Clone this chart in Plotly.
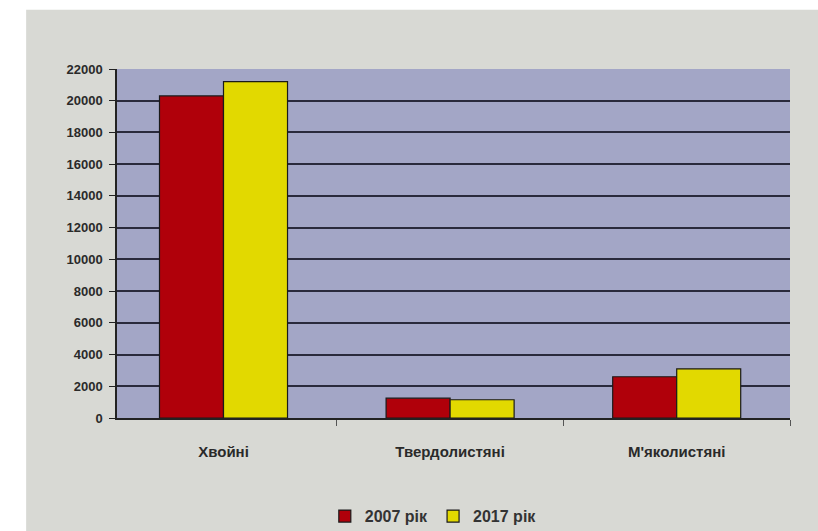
import plotly.graph_objects as go

categories = ["Хвойні", "Твердолистяні", "М'яколистяні"]
values_2007 = [20300, 1250, 2600]
values_2017 = [21200, 1150, 3100]
series_names = ["2007 рік", "2017 рік"]
y_ticks = list(range(0, 22001, 2000))

fig = go.Figure()
fig.add_trace(go.Bar(x=categories, y=values_2007, name=series_names[0],
                     marker=dict(color="#b0000a", line=dict(color="#1a1a1a", width=1.2))))
fig.add_trace(go.Bar(x=categories, y=values_2017, name=series_names[1],
                     marker=dict(color="#e2d900", line=dict(color="#1a1a1a", width=1.2))))

font = "Liberation Sans, Arial, sans-serif"
fig.update_layout(
    width=818, height=531,
    margin=dict(l=117, r=28, t=69, b=113, autoexpand=False),
    paper_bgcolor="#d8d9d4",
    plot_bgcolor="#a3a6c6",
    barmode="group", bargap=0.435, bargroupgap=0,
    font=dict(family=font, color="#222222"),
    showlegend=True,
    legend=dict(orientation="h", x=0.47, xanchor="center", yref="container", y=0.028, yanchor="middle",
                font=dict(size=16, family=font, weight="bold", color="#333333"),
                bgcolor="rgba(0,0,0,0)", itemwidth=30, traceorder="normal"),
    shapes=[
        dict(type="rect", xref="paper", yref="paper", x0=-0.18, x1=-0.135, y0=-0.4, y1=1.25,
             fillcolor="white", line=dict(width=0), layer="below"),
        dict(type="rect", xref="paper", yref="paper", x0=-0.18, x1=1.1, y0=1.17, y1=1.25,
             fillcolor="white", line=dict(width=0), layer="below"),
    ],
)
fig.update_xaxes(
    range=[-0.47, 2.5],
    showline=True, linecolor="#222222", linewidth=1.5,
    ticks="outside", tickson="boundaries", ticklen=6, tickcolor="#555555",
    tickfont=dict(size=15, family=font, weight="bold", color="#2a2a2a"),
    ticklabelstandoff=19, showgrid=False,
)
fig.update_yaxes(
    range=[0, 22000], tickvals=y_ticks, ticktext=[str(v) for v in y_ticks],
    showline=True, linecolor="#222222", linewidth=1.5,
    ticks="outside", ticklen=6, tickcolor="#222222",
    tickfont=dict(size=13, family=font, weight="bold", color="#2a2a2a"),
    showgrid=True, gridcolor="#2a2a3c", gridwidth=1.5, zeroline=False,
    ticklabelstandoff=4,
)
fig.write_html("out.html")
